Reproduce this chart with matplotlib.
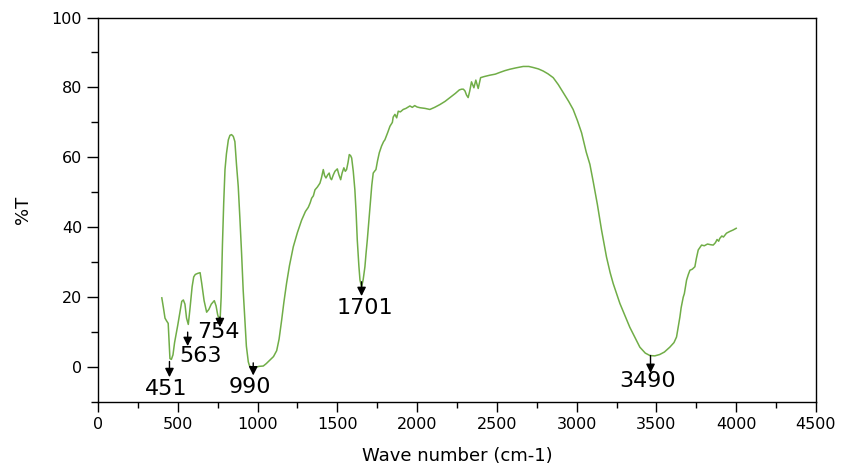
import numpy as np
import matplotlib.pyplot as plt
from matplotlib.ticker import MultipleLocator

# FTIR spectrum
wavenumber = [400, 410, 420, 430, 440, 445, 451, 460, 470, 480, 500, 515, 525, 535, 545,
              555, 566, 575, 590, 600, 610, 625, 640, 650, 665, 681, 695, 710, 729, 740,
              750, 760, 765, 772, 780, 788, 796, 805, 817, 827, 837, 848, 858, 868, 879,
              890, 900, 910, 921, 930, 942, 950, 963, 975, 990, 1010, 1036, 1055, 1078, 1100,
              1120, 1135, 1151, 1165, 1182, 1200, 1224, 1250, 1276, 1300, 1318, 1330, 1339, 1350, 1360,
              1375, 1391, 1400, 1412, 1420, 1429, 1440, 1449, 1457, 1464, 1475, 1485, 1500, 1510, 1521,
              1530, 1541, 1550, 1558, 1567, 1575, 1583, 1590, 1600, 1610, 1618, 1625, 1635, 1642, 1652,
              1662, 1673, 1680, 1688, 1698, 1708, 1716, 1725, 1733, 1742, 1752, 1763, 1777, 1790, 1798,
              1815, 1830, 1845, 1850, 1861, 1872, 1882, 1895, 1913, 1930, 1955, 1970, 1985, 2000, 2018,
              2050, 2080, 2110, 2143, 2175, 2206, 2240, 2265, 2279, 2290, 2300, 2310, 2320, 2330, 2341,
              2356, 2368, 2383, 2398, 2420, 2456, 2490, 2519, 2550, 2581, 2620, 2665, 2700, 2728, 2760,
              2790, 2820, 2853, 2885, 2916, 2950, 2978, 3005, 3031, 3060, 3083, 3104, 3130, 3156, 3187,
              3210, 3229, 3250, 3271, 3300, 3333, 3365, 3396, 3430, 3459, 3490, 3521, 3550, 3584, 3610,
              3626, 3635, 3647, 3655, 3668, 3675, 3689, 3700, 3710, 3725, 3741, 3750, 3762, 3783, 3800,
              3820, 3840, 3856, 3870, 3880, 3890, 3897, 3910, 3920, 3939, 3960, 3980, 4000]
transmittance = [19.8, 17, 14, 13.2, 12.5, 8, 2.4, 2.2, 3.5, 7, 12, 16, 18.8, 19.2, 18,
                 14, 12.2, 16, 23, 25.8, 26.5, 26.8, 27, 24, 19, 15.7, 16.5, 18, 19, 17.5,
                 15, 13.5, 13.2, 20, 35, 47, 56.5, 61, 65, 66.3, 66.5, 66, 64.5, 58, 51.7,
                 42, 32.5, 22, 13.4, 6, 1.5, 0.3, 0, 0, 0, 0.2, 0.3, 1, 2, 3,
                 4.7, 8, 13.4, 18.5, 24, 29, 34.4, 38.5, 42, 44.5, 45.7, 47, 48.3, 49, 50.7,
                 51.5, 52.6, 54, 56.5, 54.8, 54.1, 55, 55.5, 54, 53.6, 55, 56, 56.7, 55, 53.6,
                 55.5, 57, 56, 56.5, 58.5, 60.8, 60.5, 59.8, 56, 50.7, 44, 36.4, 29, 24.9, 22.9,
                 25, 28.7, 32.5, 36.4, 42, 47.8, 52, 55.5, 56, 56.5, 59, 61.3, 63.2, 64.5, 65,
                 67, 68.9, 70, 71.5, 72.3, 71.3, 73.2, 73, 73.7, 74, 74.7, 74.3, 74.8, 74.4, 74.2,
                 74, 73.7, 74.3, 75.1, 76, 77.1, 78.3, 79.3, 79.5, 79.5, 79, 77.8, 77.1, 79, 81.6,
                 79.9, 82.1, 79.7, 82.8, 83.1, 83.5, 83.8, 84.3, 84.8, 85.2, 85.6, 86, 86, 85.7, 85.3,
                 84.7, 83.9, 82.8, 80.8, 78.5, 76, 73.7, 70.5, 67, 61.5, 58, 53, 46.5, 39.2, 31.5,
                 27, 23.9, 21, 18.2, 15, 11.4, 8.5, 5.7, 4, 3.3, 3.2, 3.6, 4.3, 5.7, 7,
                 8.6, 11, 14.3, 17, 20, 21, 24.9, 26.5, 27.7, 28, 28.7, 31, 33.5, 34.9, 34.7,
                 35.2, 35, 34.9, 35.6, 36.5, 36, 36.8, 37.5, 37.2, 38.3, 38.8, 39.2, 39.7]

peak_labels = ['451', '563', '754', '990', '1701', '3490']
# arrow x, arrow start/end (in %T), label x, label y
arrow_x = [448, 562, 764, 973, 1652, 3463]
arrow_top = [1.6, 10.0, 14.3, 1.2, 24.4, 3.3]
arrow_tip = [-2.9, 6.0, 11.4, -2.4, 20.3, -1.7]
label_x = [430, 640, 755, 950, 1670, 3445]
label_y = [-6.3, 3.3, 10.0, -5.6, 16.8, -4.0]

fig = plt.figure(figsize=(8.44, 4.66), dpi=100)
ax = fig.add_axes([0.1161, 0.1373, 0.8507, 0.8251])

ax.plot(wavenumber, transmittance, color='#70AD47', lw=1.1)

for lab, xa, yt, yp, lx, ly in zip(peak_labels, arrow_x, arrow_top, arrow_tip, label_x, label_y):
    ax.annotate('', xy=(xa, yp), xytext=(xa, yt),
                arrowprops=dict(arrowstyle='-|>', color='k', lw=1, mutation_scale=13,
                                shrinkA=0, shrinkB=0))
    ax.text(lx, ly, lab, fontsize=16, ha='center', va='center')

ax.set_xlim(0, 4500)
ax.set_ylim(-10, 100)
ax.xaxis.set_major_locator(MultipleLocator(500))
ax.xaxis.set_minor_locator(MultipleLocator(250))
ax.yaxis.set_major_locator(MultipleLocator(20))
ax.yaxis.set_minor_locator(MultipleLocator(10))
ax.tick_params(which='major', direction='out', labelsize=11.5, width=1)
ax.tick_params(axis='x', which='major', length=7)
ax.tick_params(axis='y', which='major', length=8)
ax.tick_params(axis='x', which='minor', length=4, width=1)
ax.tick_params(axis='y', which='minor', length=5, width=1)
for s in ax.spines.values():
    s.set_linewidth(1)

ax.set_xlabel('Wave number (cm-1)', fontsize=13, labelpad=11)
ax.set_ylabel('%T', fontsize=13, labelpad=14)

fig.savefig('out.png', dpi=100)
